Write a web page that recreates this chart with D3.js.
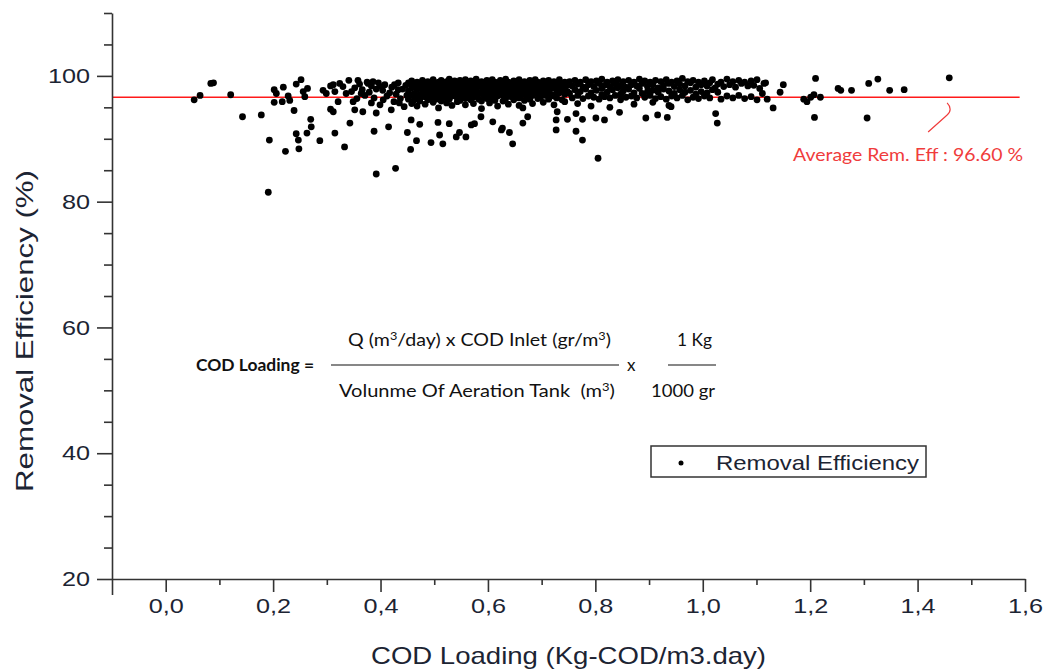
<!DOCTYPE html>
<html>
<head>
<meta charset="utf-8">
<script src="https://cdn.jsdelivr.net/npm/d3@7"></script>
<style>
  body { margin: 0; background: #fff; }
  svg { display: block; }
  text { white-space: pre; }
</style>
</head>
<body>
<svg id="chart"></svg>
<script>
// [COD loading, removal efficiency %]
const lowLoadPts = [
  [0.053,96.2],[0.064,96.9],[0.084,98.8],[0.089,98.9],[0.121,97.0],[0.143,93.5],[0.178,93.8],[0.191,81.5],
  [0.193,89.8],[0.202,97.8],[0.206,97.2],[0.219,98.2],[0.202,95.8],[0.217,95.9],[0.223,88.0],[0.228,96.8],
  [0.231,96.1],[0.239,94.5],[0.243,98.7],[0.252,99.4],[0.243,90.8],[0.247,89.8],[0.248,88.4],[0.256,97.5],
  [0.259,96.7],[0.264,98.0],[0.263,90.9],[0.270,93.1],[0.271,91.9],[0.287,89.7],[0.293,97.7],[0.299,97.2],
  [0.307,98.4],[0.307,94.7],[0.312,98.6],[0.315,97.5],[0.312,94.3],[0.315,90.9],[0.324,98.8],[0.330,98.3],
  [0.321,95.9],[0.333,88.7],[0.341,99.3],[0.343,92.5],[0.336,97.2],[0.346,97.5],[0.349,95.9]
];

const midLoadPts = [
  [0.352,94.6],[0.358,99.3],[0.364,97.2],[0.367,94.3],[0.377,98.8],[0.386,99.1],[0.388,91.2],[0.392,84.4],
  [0.383,95.7],[0.392,94.1],[0.401,98.3],[0.405,96.2],[0.415,91.9],[0.420,94.6],[0.428,85.3],[0.426,98.6],
  [0.433,97.8],[0.435,95.7],[0.450,91.0],[0.456,88.3],[0.457,93.0],[0.467,89.7],[0.473,92.3],[0.460,98.6],
  [0.463,96.2],[0.476,96.7],[0.488,97.5],[0.494,89.4],[0.507,92.6],[0.510,90.6],[0.516,89.2],[0.528,92.4],
  [0.541,90.3],[0.547,91.0],[0.559,90.3],[0.569,92.2],[0.575,92.4],[0.587,93.5],[0.609,92.7],[0.625,91.4],
  [0.640,91.0],[0.646,89.2],[0.627,91.7],[0.665,92.5],[0.665,94.9],[0.674,93.5],[0.727,93.0],[0.727,91.4],
  [0.729,94.3],[0.748,93.1],
  [0.352,98.1],[0.356,96.4],[0.361,98.7],[0.366,97.8],[0.371,96.9],[0.375,99.0],[0.379,97.4],[0.383,98.4],
  [0.388,96.5],[0.392,97.9],[0.396,98.9],[0.399,95.4],[0.404,97.7],[0.408,98.6],[0.412,96.8],[0.417,97.3],
  [0.421,98.2],[0.425,95.9],[0.429,97.1],[0.433,98.9],[0.437,96.4],[0.441,97.9],[0.444,95.1],[0.447,98.5],
  [0.449,96.9],
  [0.452,98.9],[0.452,97.6],[0.452,96.3],[0.458,99.2],[0.458,98.1],[0.458,96.9],[0.458,95.6],[0.463,98.5],
  [0.463,97.2],[0.468,99.0],[0.468,97.9],[0.468,96.5],[0.468,95.2],[0.473,98.3],[0.473,97.0],[0.473,96.0],
  [0.478,99.3],[0.478,98.6],[0.478,97.5],[0.483,98.0],[0.483,96.7],[0.483,95.5],[0.488,99.1],[0.488,98.4],
  [0.488,97.3],[0.488,96.2],[0.493,98.8],[0.493,97.7],[0.493,96.5],[0.498,99.4],[0.498,98.2],[0.498,97.0],
  [0.498,95.8],[0.503,98.6],[0.503,97.4],[0.503,96.3],[0.508,99.0],[0.508,98.0],[0.508,96.8],[0.508,94.9],
  [0.513,99.3],[0.513,98.4],[0.513,97.2],[0.513,96.0],[0.518,98.7],[0.518,97.6],[0.518,96.6],[0.523,99.1],
  [0.523,98.2],[0.523,97.0],[0.523,95.7],[0.528,99.5],[0.528,98.5],[0.528,97.4],[0.528,96.3],[0.533,98.9],
  [0.533,97.9],[0.533,96.8],[0.533,95.3],[0.538,99.2],[0.538,98.3],[0.538,97.1],[0.543,98.7],[0.543,97.7],
  [0.543,96.5],[0.543,95.9],[0.548,99.3],[0.548,98.1],[0.548,97.3],[0.548,96.1],[0.553,98.8],[0.553,97.8],
  [0.553,96.7],[0.558,99.4],[0.558,98.5],[0.558,97.5],[0.558,96.4],[0.558,95.4],[0.563,99.0],[0.563,98.0],
  [0.563,97.0],[0.568,99.2],[0.568,98.3],[0.568,97.4],[0.568,96.2],[0.573,98.6],[0.573,97.6],[0.573,96.6],
  [0.573,95.6],[0.578,99.5],[0.578,98.9],[0.578,97.9],[0.578,97.0],[0.583,98.4],[0.583,97.3],[0.583,96.3],
  [0.588,99.1],[0.588,98.2],[0.588,97.2],[0.588,96.0],[0.588,94.8],[0.593,98.7],[0.593,97.8],[0.593,96.8],
  [0.598,99.3],[0.598,98.4],[0.598,97.4],[0.598,96.4],[0.603,98.9],[0.603,98.0],[0.603,97.0],[0.603,95.7],
  [0.608,99.4],[0.608,98.5],[0.608,97.6],[0.608,96.5],[0.613,99.0],[0.613,98.1],[0.613,97.1],[0.613,96.1],
  [0.618,98.6],[0.618,97.7],[0.618,96.8],[0.618,95.2],[0.623,99.3],[0.623,98.3],[0.623,97.3],[0.628,98.8],
  [0.628,97.9],[0.628,96.9],[0.628,96.0],[0.633,99.5],[0.633,98.6],[0.633,97.5],[0.633,96.4],[0.638,99.0],
  [0.638,98.1],[0.638,97.1],[0.638,95.5],[0.643,98.7],[0.643,97.8],[0.643,96.7],[0.648,99.2],[0.648,98.3],
  [0.648,97.4],[0.648,96.2],[0.653,98.9],[0.653,97.9],[0.653,96.9],[0.658,99.4],[0.658,98.5],[0.658,97.6],
  [0.658,96.5],[0.658,95.3],[0.663,98.8],[0.663,98.0],[0.663,97.0],[0.668,99.1],[0.668,98.2],[0.668,97.3],
  [0.668,96.1],[0.673,98.6],[0.673,97.7],[0.673,96.7],[0.678,99.3],[0.678,98.4],[0.678,97.5],[0.678,96.3],
  [0.683,98.9],[0.683,98.0],[0.683,96.9],[0.683,95.6],[0.688,99.4],[0.688,98.6],[0.688,97.6],[0.693,99.0],
  [0.693,98.1],[0.693,97.2],[0.693,96.4],[0.698,98.7],[0.698,97.8],[0.698,96.6],[0.703,99.2],[0.703,98.3],
  [0.703,97.4],[0.703,95.8],[0.708,98.8],[0.708,97.9],[0.708,96.9],[0.713,99.3],[0.713,98.5],[0.713,97.5],
  [0.713,96.3],[0.718,98.9],[0.718,98.0],[0.718,97.0],[0.723,99.1],[0.723,98.2],[0.723,96.8],[0.723,95.4],
  [0.728,98.6],[0.728,97.6],[0.728,96.5],[0.733,99.4],[0.733,98.4],[0.733,97.3],[0.738,98.8],[0.738,97.9],
  [0.738,96.2],[0.743,99.0],[0.743,98.1],[0.743,97.1],[0.743,95.9],[0.748,98.5],[0.748,97.5]
];

const highLoadPts = [
  [0.764,91.2],[0.776,89.8],[0.764,94.0],[0.776,93.1],[0.801,93.3],[0.817,93.0],[0.805,86.9],[0.845,94.2],
  [0.894,93.3],[0.916,93.8],[0.934,93.4],[0.941,95.1],[1.024,94.0],[1.027,92.5],
  [0.752,99.1],[0.752,97.2],[0.757,98.4],[0.757,96.5],[0.762,99.3],[0.762,97.8],[0.767,98.7],[0.767,96.9],
  [0.767,95.6],[0.772,99.0],[0.772,97.5],[0.777,98.2],[0.777,96.4],[0.782,99.4],[0.782,97.9],[0.787,98.6],
  [0.787,96.8],[0.792,99.1],[0.792,97.3],[0.792,95.2],[0.797,98.3],[0.797,96.6],[0.802,99.2],[0.802,97.7],
  [0.807,98.8],[0.807,96.3],[0.812,99.5],[0.812,98.0],[0.812,97.0],[0.817,98.5],[0.817,96.7],[0.822,99.0],
  [0.822,97.4],[0.827,98.3],[0.827,96.5],[0.827,95.0],[0.832,99.2],[0.832,97.8],[0.837,98.7],[0.837,96.9],
  [0.842,99.4],[0.842,98.1],[0.847,98.5],[0.847,97.1],[0.847,96.2],[0.852,99.1],[0.852,97.6],[0.857,98.2],
  [0.857,96.6],[0.862,99.3],[0.862,97.9],[0.867,98.6],[0.867,96.8],[0.872,99.0],[0.872,97.3],[0.872,95.5],
  [0.877,98.4],[0.877,96.5],[0.882,99.5],[0.882,98.0],[0.887,98.8],[0.887,97.2],[0.892,99.2],[0.892,96.6],
  [0.897,98.3],[0.897,97.5],[0.902,99.0],[0.902,96.9],[0.907,98.6],[0.907,97.7],[0.907,95.8],[0.912,99.3],
  [0.912,96.4],[0.917,98.1],[0.917,97.4],[0.922,99.1],[0.922,96.7],[0.927,98.5],[0.927,97.9],[0.932,99.4],
  [0.932,96.3],[0.937,98.8],[0.937,97.6],[0.937,95.3],[0.942,99.0],[0.942,96.8],[0.947,98.3],[0.947,97.2],
  [0.952,99.2],[0.952,96.5],[0.957,98.7],[0.957,97.8],[0.962,99.6],[0.962,96.9],[0.967,98.4],[0.967,97.4],
  [0.972,99.1],[0.972,96.2],[0.977,98.9],[0.977,97.7],[0.982,99.3],[0.982,96.6],[0.987,98.2],[0.987,97.1],
  [0.992,99.0],[0.992,96.4],[0.997,98.6],[0.997,97.5],[1.003,99.2],[1.003,96.8],[1.008,98.4],[1.008,97.3],
  [1.013,98.9],[1.013,96.5],[1.018,99.4],[1.018,97.8],[1.023,98.1],[1.028,98.7],[1.028,97.4],[1.034,99.0],
  [1.034,96.3],[1.039,98.3],[1.045,99.5],[1.045,96.8],[1.050,98.6],[1.056,99.1],[1.056,96.5],[1.061,98.2],
  [1.067,99.3],[1.067,96.9],[1.072,98.8],[1.078,99.0],[1.078,96.4],[1.084,98.4],[1.090,99.2],[1.090,96.7],
  [1.095,98.5],[1.101,99.4],[1.101,96.2],[1.106,98.0]
];

const tailLoadPts = [
  [1.114,98.8],[1.117,98.9],[1.111,97.2],[1.120,96.3],[1.131,94.9],[1.144,97.4],[1.150,98.6],[1.188,96.3],
  [1.194,95.9],[1.201,96.6],[1.207,97.0],[1.219,96.6],[1.210,99.6],[1.208,93.4],[1.252,98.0],[1.257,97.7],
  [1.277,97.7],[1.309,98.8],[1.326,99.5],[1.306,93.3],[1.348,97.7],[1.375,97.8],[1.459,99.7]
];

const avgEff = 96.6;
const xMajor = [0, 0.2, 0.4, 0.6, 0.8, 1.0, 1.2, 1.4, 1.6];
const xMinor = [0.1, 0.3, 0.5, 0.7, 0.9, 1.1, 1.3, 1.5];
const yMajor = [20, 40, 60, 80, 100];
const yMinor = [25, 30, 35, 45, 50, 55, 65, 70, 75, 85, 90, 95, 105, 110];

const allPts = lowLoadPts.concat(midLoadPts, highLoadPts, tailLoadPts);

const width = 1044, height = 669;
const axisColor = "#333";
const textColor = "#1c2433";

const svg = d3.select("#chart")
  .attr("width", width)
  .attr("height", height)
  .style("font-family", "'Liberation Sans', Arial, sans-serif");

const x = d3.scaleLinear().domain([-0.1, 1.6]).range([112, 1025]);
const y = d3.scaleLinear().domain([20, 110]).range([579, 13]);

const commaFmt = d => d3.format(".1f")(d).replace(".", ",");

// the original text is a bit stretched, so widen to a measured length
function stretchTo(sel, len) {
  sel.attr("textLength", len).attr("lengthAdjust", "spacingAndGlyphs");
}

// average line (under the dots)
svg.append("line")
  .attr("x1", x(-0.1)).attr("x2", x(1.59))
  .attr("y1", y(avgEff)).attr("y2", y(avgEff))
  .attr("stroke", "#ff1a1a")
  .attr("stroke-width", 1.4);

// dots
svg.append("g")
  .selectAll("circle")
  .data(allPts)
  .join("circle")
  .attr("cx", d => x(d[0]))
  .attr("cy", d => y(d[1]))
  .attr("r", 3.4)
  .attr("fill", "#000");

// x axis, major + minor
svg.append("g")
  .attr("transform", `translate(0,${y(20)})`)
  .call(d3.axisBottom(x).tickValues(xMajor).tickSize(13).tickSizeOuter(0).tickPadding(6).tickFormat(commaFmt));
svg.append("g")
  .attr("transform", `translate(0,${y(20)})`)
  .call(d3.axisBottom(x).tickValues(xMinor).tickSize(6).tickFormat(""))
  .call(g => g.select(".domain").remove());
svg.append("g")
  .attr("transform", `translate(0,${y(20)})`)
  .call(d3.axisBottom(x).tickValues([-0.1]).tickSize(16).tickFormat(""))
  .call(g => g.select(".domain").remove());

// y axis
svg.append("g")
  .attr("transform", `translate(${x(-0.1)},0)`)
  .call(d3.axisLeft(y).tickValues(yMajor).tickSize(15).tickSizeOuter(0).tickPadding(7));
svg.append("g")
  .attr("transform", `translate(${x(-0.1)},0)`)
  .call(d3.axisLeft(y).tickValues(yMinor).tickSize(8).tickFormat(""))
  .call(g => g.select(".domain").remove());

svg.selectAll(".domain, .tick line")
  .attr("stroke", axisColor)
  .attr("stroke-width", 1.6);
svg.selectAll(".tick text")
  .attr("fill", textColor)
  .attr("font-size", 21)
  .attr("font-family", "'Liberation Sans', Arial, sans-serif")
  .each(function() {
    const w = this.getComputedTextLength();
    if (w > 0) stretchTo(d3.select(this), w * 1.2);
  });

// axis titles
svg.append("text")
  .attr("x", (x(-0.1) + x(1.6)) / 2)
  .attr("y", 664)
  .attr("text-anchor", "middle")
  .attr("font-size", 24)
  .attr("fill", textColor)
  .text("COD Loading (Kg-COD/m3.day)")
  .call(stretchTo, 395);

svg.append("text")
  .attr("transform", `translate(33,${(y(20) + y(110)) / 2 + 35}) rotate(-90)`)
  .attr("text-anchor", "middle")
  .attr("font-size", 24)
  .attr("fill", textColor)
  .text("Removal Efficiency (%)")
  .call(stretchTo, 322);

// legend
const lg = svg.append("g");
lg.append("rect")
  .attr("x", 651).attr("y", 446)
  .attr("width", 275).attr("height", 31)
  .attr("fill", "#fff")
  .attr("stroke", axisColor)
  .attr("stroke-width", 1.5);
lg.append("circle").attr("cx", 681).attr("cy", 463).attr("r", 2.5).attr("fill", "#000");
lg.append("text")
  .attr("x", 716).attr("y", 470)
  .attr("font-size", 21)
  .attr("fill", textColor)
  .text("Removal Efficiency")
  .call(stretchTo, 203);

// formula
const calib = "Lato, 'Open Sans', sans-serif";
const fm = svg.append("g").attr("font-family", calib).attr("font-size", 17).attr("fill", "#111");
fm.append("text").attr("x", 196).attr("y", 371).attr("font-weight", "bold").text("COD Loading =").call(stretchTo, 118);
fm.append("line").attr("x1", 331).attr("x2", 619).attr("y1", 365).attr("y2", 365).attr("stroke", "#111").attr("stroke-width", 1.2);
fm.append("line").attr("x1", 668).attr("x2", 716).attr("y1", 365).attr("y2", 365).attr("stroke", "#111").attr("stroke-width", 1.2);
const num = fm.append("text").attr("x", 348).attr("y", 346);
num.append("tspan").text("Q (m");
num.append("tspan").attr("font-size", 11).attr("dy", -6).text("3");
num.append("tspan").attr("dy", 6).text("/day) x COD Inlet (gr/m");
num.append("tspan").attr("font-size", 11).attr("dy", -6).text("3");
num.append("tspan").attr("dy", 6).text(")");
num.call(stretchTo, 263);
const den = fm.append("text").attr("x", 339).attr("y", 397);
den.append("tspan").text("Volunme Of Aeration Tank  (m");
den.append("tspan").attr("font-size", 11).attr("dy", -6).text("3");
den.append("tspan").attr("dy", 6).text(")");
den.call(stretchTo, 276);
fm.append("text").attr("x", 627).attr("y", 371).text("x");
fm.append("text").attr("x", 677).attr("y", 346).text("1 Kg").call(stretchTo, 35);
fm.append("text").attr("x", 651).attr("y", 397).text("1000 gr").call(stretchTo, 64);

// average annotation
const ax0 = x(1.455), ay0 = y(95.7);
svg.append("path")
  .attr("d", `M${ax0},${ay0} c4,4 4,9 0,12 l-19,17`)
  .attr("fill", "none")
  .attr("stroke", "#f03c3c")
  .attr("stroke-width", 1.2);
svg.append("text")
  .attr("x", ax0 - 154).attr("y", ay0 + 58)
  .attr("font-family", calib)
  .attr("font-size", 17)
  .attr("fill", "#f03c3c")
  .text("Average Rem. Eff : 96.60 %")
  .call(stretchTo, 230);
</script>
</body>
</html>
